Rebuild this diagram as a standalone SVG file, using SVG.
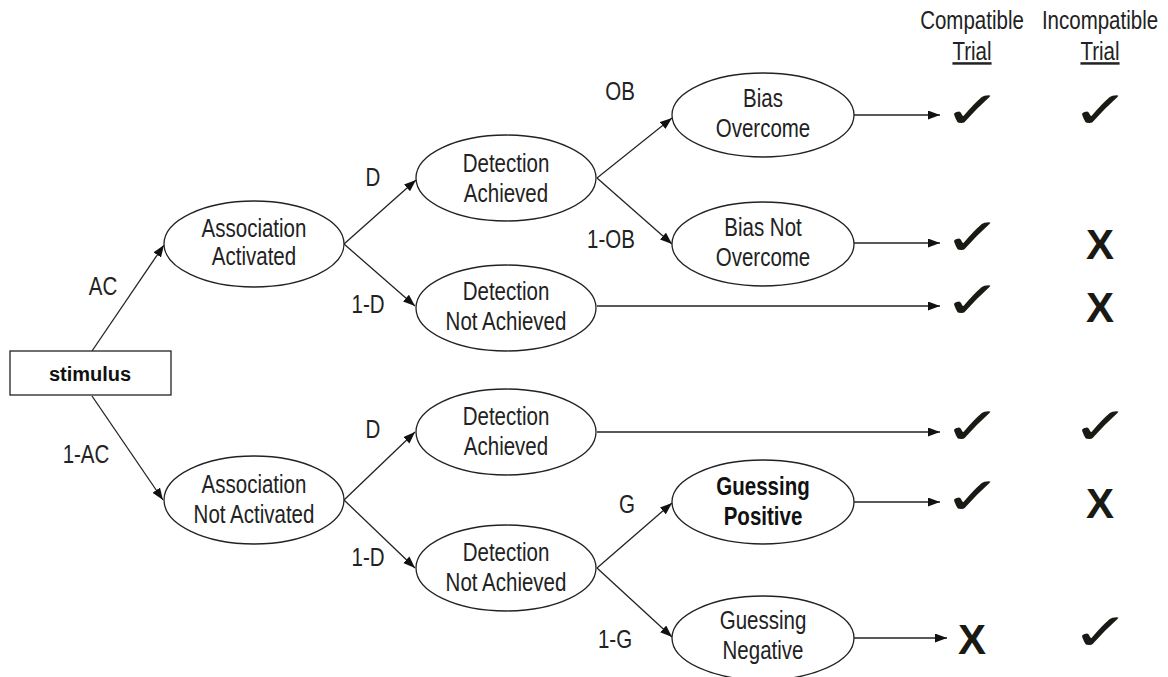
<svg xmlns="http://www.w3.org/2000/svg" width="1168" height="677" viewBox="0 0 1168 677">
<defs>
<marker id="ah" markerUnits="userSpaceOnUse" markerWidth="13" markerHeight="10" refX="12" refY="4.5" orient="auto">
<path d="M0,0 L12,4.5 L0,9 z" fill="#111"/>
</marker>
<style>
.n{fill:#fff;stroke:#222;stroke-width:1.3}
.t{font-family:'Liberation Sans',Arial,sans-serif;font-size:25px;fill:#222;text-anchor:middle}
.b{font-weight:bold;fill:#111}
.c{fill:none;stroke:#222;stroke-width:1.3;marker-end:url(#ah)}
.ck{font-family:'DejaVu Sans',sans-serif;font-size:52px;fill:#1a1a14;text-anchor:middle}
.x{font-family:'Liberation Sans',Arial,sans-serif;font-weight:bold;font-size:42px;fill:#1a1a14;text-anchor:middle}
</style>
</defs>
<rect width="1168" height="677" fill="#fff"/>

<g id="connectors">
<line class="c" x1="92" y1="351" x2="164" y2="245"/>
<line class="c" x1="92" y1="396" x2="163" y2="500"/>
<line class="c" x1="344" y1="244" x2="416" y2="180"/>
<line class="c" x1="344" y1="244" x2="415" y2="306"/>
<line class="c" x1="344" y1="500" x2="415" y2="432"/>
<line class="c" x1="344" y1="500" x2="415" y2="568"/>
<line class="c" x1="597" y1="178" x2="672" y2="118"/>
<line class="c" x1="597" y1="178" x2="672" y2="244"/>
<line class="c" x1="597" y1="568" x2="672" y2="503"/>
<line class="c" x1="597" y1="568" x2="672" y2="637"/>
<line class="c" x1="854" y1="115" x2="940" y2="115"/>
<line class="c" x1="854" y1="243" x2="940" y2="243"/>
<line class="c" x1="597" y1="306" x2="940" y2="306"/>
<line class="c" x1="597" y1="432" x2="940" y2="432"/>
<line class="c" x1="853" y1="502" x2="940" y2="502"/>
<line class="c" x1="853" y1="638" x2="947" y2="638"/>
</g>

<g id="edge-labels" class="t">
<text transform="translate(103,295) scale(0.82,1)">AC</text>
<text transform="translate(86,463) scale(0.82,1)">1-AC</text>
<text transform="translate(373,186) scale(0.82,1)">D</text>
<text transform="translate(368,313) scale(0.82,1)">1-D</text>
<text transform="translate(620,100) scale(0.82,1)">OB</text>
<text transform="translate(611,248) scale(0.82,1)">1-OB</text>
<text transform="translate(373,438) scale(0.82,1)">D</text>
<text transform="translate(368,566) scale(0.82,1)">1-D</text>
<text transform="translate(627,513) scale(0.82,1)">G</text>
<text transform="translate(615,648) scale(0.82,1)">1-G</text>
</g>

<g id="stimulus">
<rect class="n" x="10" y="351" width="161" height="44"/>
<text x="90" y="381" style="font-family:'Liberation Sans',Arial,sans-serif;font-size:20px;font-weight:bold;fill:#111;text-anchor:middle">stimulus</text>
</g>

<g id="assoc-activated">
<ellipse class="n" cx="254" cy="244" rx="90" ry="43"/>
<text class="t" transform="translate(254,237) scale(0.82,1)">Association</text>
<text class="t" transform="translate(254,265) scale(0.82,1)">Activated</text>
</g>
<g id="assoc-not-activated">
<ellipse class="n" cx="254" cy="500" rx="90" ry="44"/>
<text class="t" transform="translate(254,493) scale(0.82,1)">Association</text>
<text class="t" transform="translate(254,523) scale(0.82,1)">Not Activated</text>
</g>
<g id="detection-achieved-1">
<ellipse class="n" cx="506" cy="178" rx="90" ry="43"/>
<text class="t" transform="translate(506,172) scale(0.82,1)">Detection</text>
<text class="t" transform="translate(506,202) scale(0.82,1)">Achieved</text>
</g>
<g id="detection-not-achieved-1">
<ellipse class="n" cx="506" cy="308" rx="90" ry="43"/>
<text class="t" transform="translate(506,300) scale(0.82,1)">Detection</text>
<text class="t" transform="translate(506,330) scale(0.82,1)">Not Achieved</text>
</g>
<g id="detection-achieved-2">
<ellipse class="n" cx="506" cy="432" rx="90" ry="43"/>
<text class="t" transform="translate(506,425) scale(0.82,1)">Detection</text>
<text class="t" transform="translate(506,455) scale(0.82,1)">Achieved</text>
</g>
<g id="detection-not-achieved-2">
<ellipse class="n" cx="506" cy="568" rx="90" ry="43"/>
<text class="t" transform="translate(506,561) scale(0.82,1)">Detection</text>
<text class="t" transform="translate(506,591) scale(0.82,1)">Not Achieved</text>
</g>
<g id="bias-overcome">
<ellipse class="n" cx="763" cy="115" rx="91" ry="42"/>
<text class="t" transform="translate(763,107) scale(0.82,1)">Bias</text>
<text class="t" transform="translate(763,137) scale(0.82,1)">Overcome</text>
</g>
<g id="bias-not-overcome">
<ellipse class="n" cx="763" cy="244" rx="91" ry="42"/>
<text class="t" transform="translate(763,236) scale(0.82,1)">Bias Not</text>
<text class="t" transform="translate(763,266) scale(0.82,1)">Overcome</text>
</g>
<g id="guessing-positive">
<ellipse class="n" cx="763" cy="502" rx="91" ry="42"/>
<text class="t b" transform="translate(763,495) scale(0.82,1)">Guessing</text>
<text class="t b" transform="translate(763,525) scale(0.82,1)">Positive</text>
</g>
<g id="guessing-negative">
<ellipse class="n" cx="763" cy="638" rx="91" ry="42"/>
<text class="t" transform="translate(763,629) scale(0.82,1)">Guessing</text>
<text class="t" transform="translate(763,659) scale(0.82,1)">Negative</text>
</g>

<g id="headers" class="t">
<text transform="translate(972,29) scale(0.82,1)">Compatible</text>
<text transform="translate(972,60) scale(0.82,1)" text-decoration="underline">Trial</text>
<text transform="translate(1100,29) scale(0.82,1)">Incompatible</text>
<text transform="translate(1100,60) scale(0.82,1)" text-decoration="underline">Trial</text>
</g>

<g id="outcomes">
<text class="ck" transform="translate(973,128) scale(1.35,1)">✓</text>
<text class="ck" transform="translate(1101,128) scale(1.35,1)">✓</text>
<text class="ck" transform="translate(973,255) scale(1.35,1)">✓</text>
<text class="x" x="1100" y="259">X</text>
<text class="ck" transform="translate(973,318) scale(1.35,1)">✓</text>
<text class="x" x="1100" y="322">X</text>
<text class="ck" transform="translate(973,444) scale(1.35,1)">✓</text>
<text class="ck" transform="translate(1101,444) scale(1.35,1)">✓</text>
<text class="ck" transform="translate(973,514) scale(1.35,1)">✓</text>
<text class="x" x="1100" y="518">X</text>
<text class="x" x="972" y="654">X</text>
<text class="ck" transform="translate(1101,650) scale(1.35,1)">✓</text>
</g>
</svg>
